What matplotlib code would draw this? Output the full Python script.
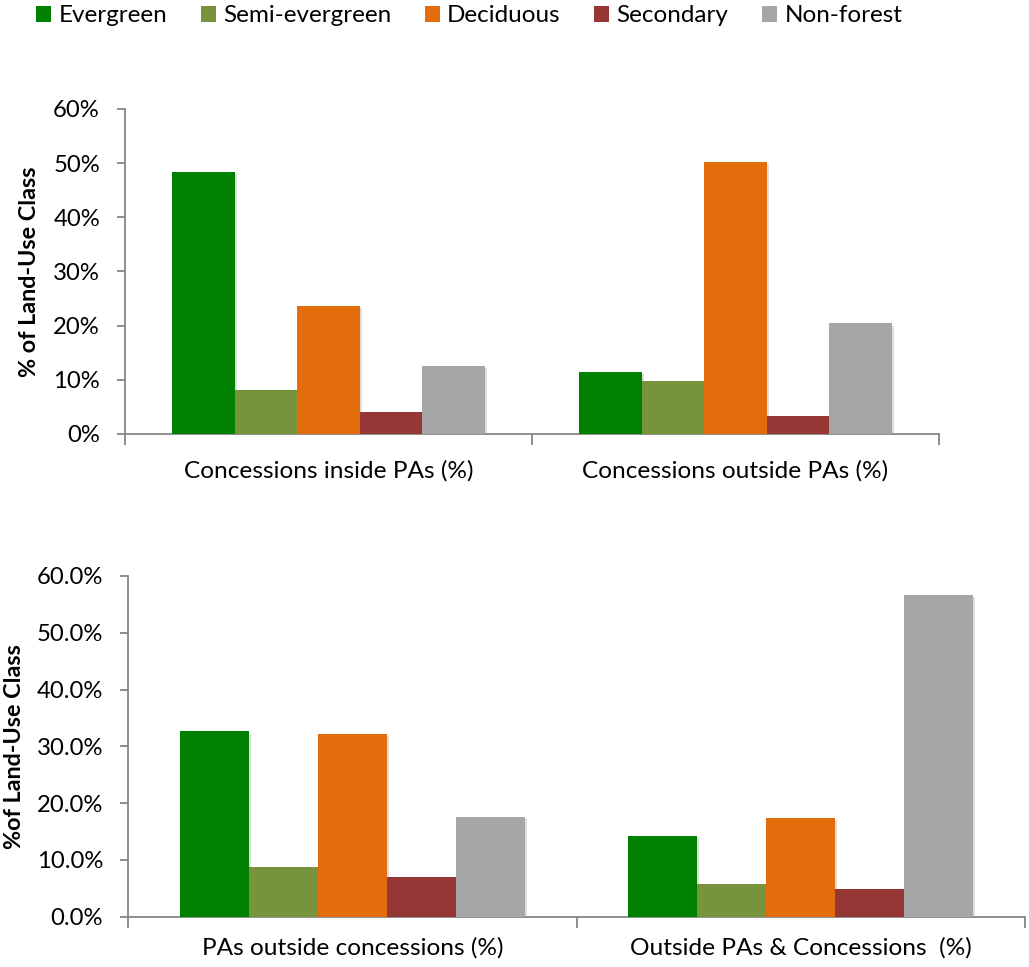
import matplotlib
matplotlib.use("Agg")
import matplotlib.pyplot as plt
import matplotlib.patheffects as pe
from matplotlib.patches import Patch
from matplotlib.ticker import FuncFormatter
import numpy as np

plt.rcParams['font.family'] = ['Lato', 'DejaVu Sans']

# Land-use classes and their colours
classes = ["Evergreen", "Semi-evergreen", "Deciduous", "Secondary", "Non-forest"]
colors = ["#008000", "#77933C", "#E46C0A", "#953735", "#A6A6A6"]

# Upper panel: concessions
top_groups = ["Concessions inside PAs (%)", "Concessions outside PAs (%)"]
top_evergreen = [48.4, 11.4]
top_semi = [8.2, 9.8]
top_deciduous = [23.6, 50.3]
top_secondary = [4.1, 3.3]
top_nonforest = [12.6, 20.4]

# Lower panel: protected areas and the rest
bot_groups = ["PAs outside concessions (%)", "Outside PAs & Concessions  (%)"]
bot_evergreen = [32.6, 14.2]
bot_semi = [8.8, 5.7]
bot_deciduous = [32.2, 17.3]
bot_secondary = [7.0, 4.8]
bot_nonforest = [17.6, 56.6]

y_ticks = [0, 10, 20, 30, 40, 50, 60]

AXIS_GREY = "#868686"

fig = plt.figure(figsize=(10.29, 9.67), dpi=100)
W, H = 1029, 967

def px_axes(left, right, top, bottom):
    return fig.add_axes([left / W, 1 - bottom / H, (right - left) / W, (bottom - top) / H])

def draw_panel(ax, groups, series, ylabel, fmt, label_x, cat_pad):
    n = len(series)
    width = (1 / 1.3) / n
    x = np.arange(len(groups))
    shadow = [pe.SimplePatchShadow(offset=(1.5, -1.5), shadow_rgbFace="#7f7f7f", alpha=0.25), pe.Normal()]
    for i, (vals, col) in enumerate(zip(series, colors)):
        offs = (i - (n - 1) / 2) * width
        bars = ax.bar(x + offs, vals, width=width, color=col, edgecolor="none", zorder=3)
        for b in bars:
            b.set_path_effects(shadow)
    ax.set_xlim(-0.5, len(groups) - 0.5)
    ax.set_ylim(0, 60)
    for s in ["top", "right"]:
        ax.spines[s].set_visible(False)
    for s in ["left", "bottom"]:
        ax.spines[s].set_color(AXIS_GREY)
        ax.spines[s].set_linewidth(1.3)
    ax.set_yticks(y_ticks)
    ax.yaxis.set_major_formatter(FuncFormatter(fmt))
    ax.tick_params(axis="y", direction="out", length=6, width=1.3, color=AXIS_GREY,
                   labelsize=17.2, pad=12, labelcolor="black")
    ax.set_xticks(np.arange(-0.5, len(groups), 1.0))
    ax.set_xticklabels([])
    ax.set_xticks(x, minor=True)
    ax.set_xticklabels(groups, minor=True)
    ax.tick_params(axis="x", which="major", direction="out", length=8, width=1.3, color=AXIS_GREY)
    ax.tick_params(axis="x", which="minor", length=0, labelsize=17.6, pad=cat_pad)
    ax.set_ylabel(ylabel, fontsize=16.8, fontweight="bold", va="center")
    ax.yaxis.set_label_coords(label_x, 0.5)

ax1 = px_axes(125, 939, 109, 434)
draw_panel(ax1, top_groups,
           [top_evergreen, top_semi, top_deciduous, top_secondary, top_nonforest],
           "% of Land-Use Class", lambda v, p: f"{v:.0f}%", -0.117, 18.5)

ax2 = px_axes(128, 1025, 576, 916.5)
draw_panel(ax2, bot_groups,
           [bot_evergreen, bot_semi, bot_deciduous, bot_secondary, bot_nonforest],
           "%of Land-Use Class", lambda v, p: f"{v:.1f}%", -0.127, 15)

handles = [Patch(facecolor=c, edgecolor="none") for c in colors]
fig.legend(handles, classes, loc="center left", bbox_to_anchor=(36 / W, 1 - 16 / H),
           ncol=5, frameon=False, fontsize=17.5, handlelength=0.62, handleheight=0.62,
           handletextpad=0.3, columnspacing=1.38, borderpad=0, borderaxespad=0)

fig.savefig("out.png", dpi=100, facecolor="white")
